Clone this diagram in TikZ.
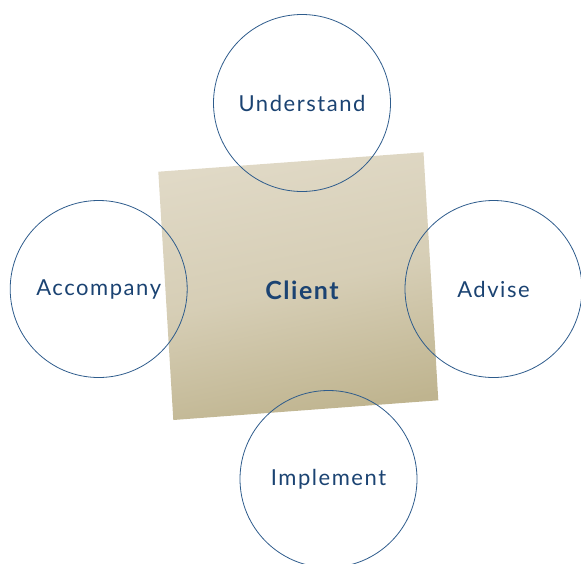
\documentclass[tikz,border=0pt]{standalone}
\usepackage{fontspec}
\setmainfont{Lato}
\newfontfamily\ringfont[LetterSpace=7]{Lato}
\newfontfamily\clientfont[LetterSpace=6]{Lato}
\definecolor{navy}{HTML}{1B4372}
\definecolor{ring}{HTML}{2E5C8C}
\definecolor{sandtop}{HTML}{E0D9C6}
\definecolor{sandbot}{HTML}{BFB48F}
\tikzset{
  ringnode/.style={circle, draw=ring, line width=0.8pt, minimum size=177pt, inner sep=0pt, text=navy, font=\ringfont\fontsize{22}{24}\selectfont},
}
\begin{document}
\begin{tikzpicture}[x=1pt,y=-1pt]
\useasboundingbox (0,0) rectangle (581,563);
\coordinate (tl) at (158.3,171.7);
\coordinate (tr) at (423.5,152.3);
\coordinate (br) at (438.3,400.3);
\coordinate (bl) at (173.3,420);
\shade[top color=sandtop, bottom color=sandbot, middle color=sandtop!70!sandbot, shading angle=12]
  (tl) -- (tr) -- (br) -- (bl) -- cycle;
\node[text=navy, font=\clientfont\bfseries\fontsize{25}{27}\selectfont] (client) at (302,290) {Client};
\node[ringnode] (understand) at (302,103) {Understand};
\node[ringnode] (accompany) at (98.7,289) {Accompany};
\node[ringnode] (advise) at (493.5,289) {Advise};
\node[ringnode] (implement) at (328.5,479) {Implement};
\end{tikzpicture}
\end{document}
